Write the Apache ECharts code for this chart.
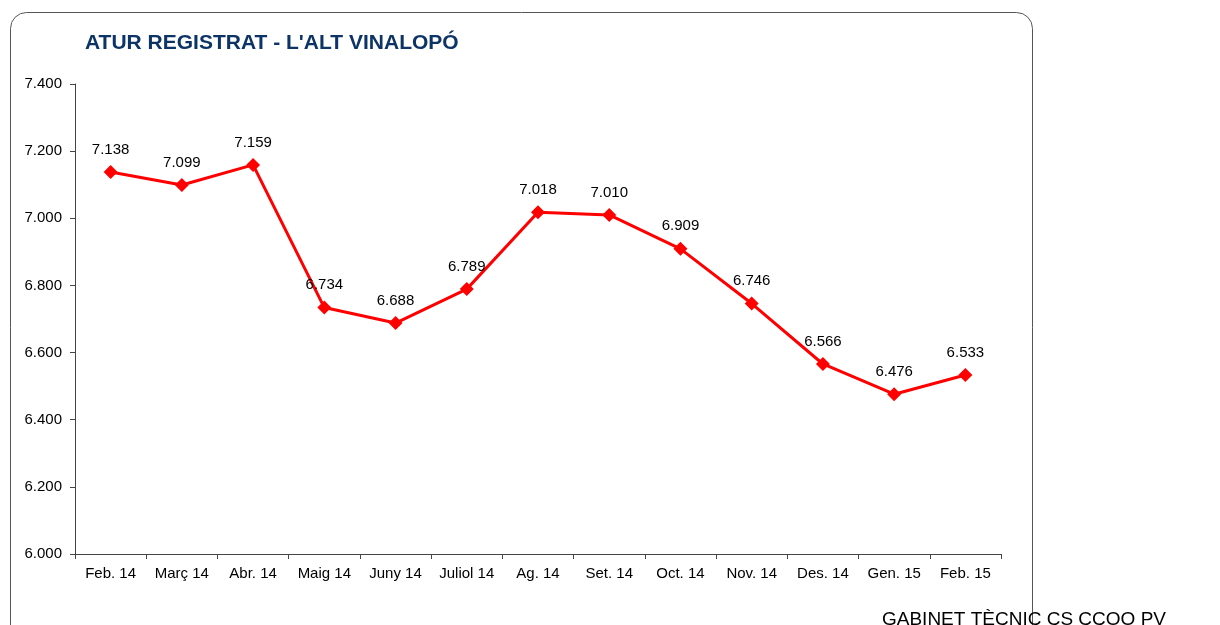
<!DOCTYPE html>
<html>
<head>
<meta charset="utf-8">
<script src="https://cdn.jsdelivr.net/npm/echarts@6/dist/echarts.min.js"></script>
<style>
  html, body { margin: 0; padding: 0; background: #fff; }
  #chart { width: 1220px; height: 625px; }
</style>
</head>
<body>
<div id="chart"></div>
<script>
const months = ['Feb. 14', 'Març 14', 'Abr. 14', 'Maig 14', 'Juny 14', 'Juliol 14', 'Ag. 14',
  'Set. 14', 'Oct. 14', 'Nov. 14', 'Des. 14', 'Gen. 15', 'Feb. 15']
const atur = [7138, 7099, 7159, 6734, 6688, 6789, 7018, 7010, 6909, 6746, 6566, 6476, 6533]

const fmt = v => (v / 1000).toFixed(3)

const chart = echarts.init(document.getElementById('chart'))
chart.setOption({
  animation: false,
  textStyle: { fontFamily: 'Liberation Sans, Arial, sans-serif' },
  graphic: [
    {
      type: 'rect',
      shape: { x: 10.5, y: 12.5, width: 1022, height: 640, r: 16 },
      style: { fill: 'none', stroke: '#555', lineWidth: 1 }
    },
    {
      type: 'text',
      left: 85,
      top: 33,
      style: {
        text: "ATUR REGISTRAT - L'ALT VINALOPÓ",
        fill: '#0d3466',
        font: 'bold 21px Liberation Sans, Arial, sans-serif'
      }
    },
    {
      type: 'text',
      left: 882,
      top: 610,
      style: {
        text: 'GABINET TÈCNIC CS CCOO PV',
        fill: '#000',
        font: '19px Liberation Sans, Arial, sans-serif'
      }
    }
  ],
  grid: { left: 75, right: 219, top: 84, bottom: 71 },
  xAxis: {
    type: 'category',
    data: months,
    boundaryGap: true,
    axisLine: { lineStyle: { color: '#444', width: 1 } },
    axisTick: { show: true, interval: 0, length: 5, lineStyle: { color: '#444' } },
    axisLabel: { color: '#000', fontSize: 15, margin: 12, interval: 0 }
  },
  yAxis: {
    type: 'value',
    min: 6000,
    max: 7400,
    interval: 200,
    axisLine: { show: true, lineStyle: { color: '#444', width: 1 } },
    axisTick: { show: true, length: 5, lineStyle: { color: '#444' } },
    splitLine: { show: false },
    axisLabel: { color: '#000', fontSize: 15, margin: 13, formatter: fmt }
  },
  series: [{
    type: 'line',
    data: atur,
    symbol: 'diamond',
    symbolSize: 14,
    lineStyle: { color: '#ff0000', width: 3 },
    itemStyle: { color: '#ff0000' },
    label: {
      show: true,
      position: 'top',
      distance: 8,
      color: '#000',
      fontSize: 15,
      formatter: p => fmt(p.value)
    }
  }]
})
</script>
</body>
</html>
